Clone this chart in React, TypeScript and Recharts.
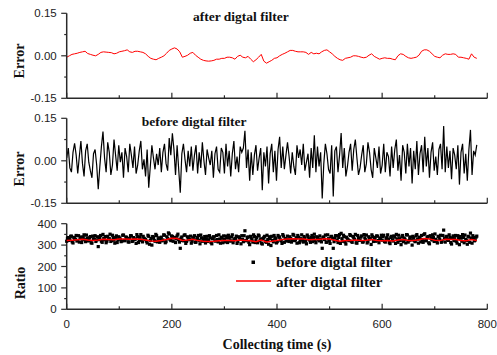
import React from 'react';
import { LineChart, Line, XAxis, YAxis, ComposedChart, Scatter } from 'recharts';

// ---------------- data ----------------
const AFTER_STEP = 5; // s
const afterFilterErrorMilli = [
  -5, 0, 5, 7, 9, 12, 14, 16, 8, 5,
  2, 0, 5, 12, 14, 13, 12, 11, 7, 9,
  14, 16, 18, 21, 14, 12, 16, 16, 14, 12,
  7, -2, -9, -12, -14, -9, -5, 0, 9, 19,
  24, 28, 24, 14, -5, -2, 2, 9, 12, 2,
  -5, -12, -16, -18, -19, -18, -16, -12, -12, -9,
  -9, -5, -5, -7, -12, -2, 2, -5, -7, -2,
  -12, -21, -14, -5, 5, -19, -26, -21, -16, -9,
  -7, 0, 5, 9, 14, 19, 19, 16, 14, 14,
  14, 12, 5, 12, 7, 9, 7, 14, 19, 21,
  14, 7, -2, -9, -14, -16, -9, -7, -5, 0,
  0, -2, -5, -7, -5, 2, 7, -2, -7, -12,
  -9, -7, -9, -9, -12, -14, 0, 7, 5, -2,
  -7, -9, -7, -5, 2, 16, 21, 21, 16, 7,
  -2, -5, -7, 2, 7, 5, 5, 7, 5, -5,
  -5, -7, -9, -12, 7, -5, -9,
];

const BEFORE_STEP = 3; // s
const beforeFilterErrorMilli = [
  10, 45, -25, -40, 30, 62, 20, -45, 15, 70, -10, -55, 35, 60, -5, -35, -60, 25, 40, -15,
  -100, -20, 50, 103, 10, -40, 65, 30, -50, -15, 75, 20, -35, 55, -5, 30, -60, 45, 15, -40,
  60, 20, -25, 50, -45, -15, 35, 70, -30, 5, -55, 40, -95, -20, 55, 10, -30, 25, -15, 45,
  -40, 30, 60, -10, -35, 80, 20, 97, 40, -50, 55, -30, -113, 25, 60, 5, -40, 35, -20, 50,
  -35, 20, 55, -45, 30, -25, 65, 0, -50, 40, 10, -15, 35, -60, 25, 50, -30, -40, 45, 30,
  -45, 60, -20, 35, -55, 25, 70, -30, 15, -40, 50, 30, 45, 106, -25, 40, -70, 30, -50, 20,
  55, -35, 10, 45, -104, 30, -20, 50, -80, 25, 60, -40, 35, -70, 40, 85, -25, 50, -30, 20,
  65, 15, -45, 30, -20, -50, 55, 10, 40, -15, 60, -35, -5, 25, -60, 45, -25, 90, -40, 50,
  -20, 30, -133, -10, 60, 25, -30, -45, 55, -126, 35, 50, -40, 20, 98, -25, 45, -55, -20, 30,
  60, -35, 40, 75, 10, -50, -25, 20, 55, -40, -10, 65, 30, -30, -60, 45, 10, -25, 50, -45,
  -15, 60, -40, 30, 15, -55, 50, -25, 40, 75, -35, 20, -70, 55, 30, -45, 60, -20, 45, -80,
  35, -30, 70, -50, 25, 55, -40, 85, -20, 45, -60, 30, 65, -35, 15, -50, 40, 60, -30, 123,
  -40, 50, -25, 35, -65, 45, 20, -30, 55, -84, 30, 60, -45, 25, -70, 40, 109, -50, 35, 20, 56,
];

const RATIO_STEP = 3; // s, two interleaved sample sets offset by half a step
const ratioBeforeFilterA = [
  318, 335, 326, 342, 310, 330, 345, 322, 314, 338, 327, 348, 316, 333, 321, 340, 309, 329, 344, 324,
  293, 336, 318, 350, 325, 311, 341, 330, 317, 346, 323, 334, 312, 339, 328, 319, 347, 321, 336, 315,
  331, 343, 320, 327, 308, 339, 324, 349, 315, 332, 326, 310, 341, 322, 300, 335, 318, 344, 329, 313,
  337, 324, 346, 316, 331, 352, 321, 340, 334, 312, 343, 326, 285, 338, 320, 348, 317, 333, 327, 309,
  330, 344, 314, 336, 322, 347, 318, 329, 310, 341, 325, 334, 306, 339, 320, 345, 315, 328, 337, 311,
  326, 342, 312, 335, 319, 348, 323, 331, 308, 339, 327, 344, 316, 367, 321, 338, 302, 333, 314, 340,
  324, 311, 343, 329, 305, 336, 318, 346, 304, 330, 341, 315, 334, 310, 345, 338, 320, 349, 313, 328,
  342, 317, 331, 322, 346, 325, 309, 337, 319, 348, 314, 333, 306, 340, 324, 336, 316, 351, 311, 335,
  320, 327, 285, 338, 347, 314, 330, 308, 341, 285, 333, 344, 312, 349, 355, 318, 339, 305, 328, 321,
  345, 313, 336, 350, 309, 331, 322, 343, 315, 334, 347, 317, 329, 303, 340, 326, 318, 342, 311, 333,
  323, 346, 314, 335, 328, 307, 341, 319, 337, 350, 313, 330, 302, 345, 333, 310, 347, 321, 338, 300,
  334, 316, 349, 309, 331, 345, 313, 353, 322, 340, 306, 332, 348, 317, 327, 310, 339, 346, 318, 370,
  314, 341, 322, 336, 305, 343, 330, 318, 344, 302, 333, 349, 311, 327, 304, 338, 356, 309, 335, 324, 342,
];
const ratioBeforeFilterB = [
  330, 322, 341, 315, 336, 327, 319, 344, 331, 312, 338, 325, 347, 320, 334, 311, 342, 328, 317, 339,
  326, 345, 313, 332, 340, 318, 329, 351, 322, 336, 309, 343, 325, 333, 316, 346, 321, 338, 330, 314,
  344, 317, 335, 328, 349, 312, 337, 323, 341, 329, 318, 346, 304, 331, 340, 322, 350, 315, 334, 326,
  320, 348, 311, 339, 357, 326, 343, 318, 336, 329, 351, 314, 333, 322, 346, 308, 339, 325, 342, 318,
  337, 313, 328, 345, 306, 334, 321, 340, 327, 317, 344, 312, 330, 337, 319, 326, 348, 309, 332, 343,
  315, 333, 346, 320, 338, 311, 329, 342, 317, 335, 306, 327, 344, 321, 336, 313, 341, 325, 348, 312,
  336, 347, 320, 309, 331, 341, 313, 326, 339, 298, 322, 345, 330, 316, 337, 324, 308, 342, 331, 319,
  327, 339, 314, 350, 321, 334, 345, 311, 330, 325, 340, 318, 347, 329, 313, 345, 336, 322, 339, 327,
  343, 315, 336, 326, 313, 348, 320, 339, 330, 316, 344, 323, 336, 308, 330, 346, 315, 337, 324, 349,
  318, 340, 327, 311, 345, 322, 337, 314, 349, 325, 310, 339, 332, 348, 317, 335, 343, 321, 331, 346,
  340, 317, 331, 348, 312, 336, 325, 343, 308, 329, 346, 321, 338, 316, 327, 349, 314, 333, 324, 341,
  320, 343, 328, 337, 315, 326, 349, 320, 336, 311, 344, 324, 335, 352, 319, 341, 328, 313, 345, 330,
  339, 326, 348, 312, 333, 321, 345, 309, 331, 340, 318, 336, 347, 322, 341, 313, 332, 344, 320, 337,
];

const RATIO_LINE_STEP = 10; // s
const ratioAfterFilter = [
  321, 323, 325, 327, 324, 322, 324, 327, 326, 325,
  328, 329, 327, 328, 327, 324, 319, 318, 321, 326,
  332, 331, 322, 324, 327, 321, 318, 317, 318, 320,
  321, 322, 320, 324, 322, 320, 316, 324, 315, 318,
  322, 326, 328, 330, 329, 328, 325, 326, 326, 330,
  328, 323, 318, 321, 322, 324, 322, 323, 326, 321,
  320, 321, 319, 324, 326, 321, 322, 325, 331, 329,
  323, 321, 327, 326, 326, 322, 320, 326, 321,
];

const timeTicks = [0, 100, 200, 300, 400, 500, 600, 700, 800];
const errorTicks = [-0.15, -0.075, 0, 0.075, 0.15];
const errorLabels = [-0.15, 0, 0.15];
const ratioTicks = [0, 50, 100, 150, 200, 250, 300, 350, 400];
const ratioLabels = [0, 100, 200, 300, 400];

const afterData = afterFilterErrorMilli.map((v, i) => ({ t: i * AFTER_STEP, e: v / 1000 }));
const beforeData = beforeFilterErrorMilli.map((v, i) => ({ t: i * BEFORE_STEP, e: v / 1000 }));
const ratioScatterData = [
  ...ratioBeforeFilterA.map((v, i) => ({ t: i * RATIO_STEP, r: v })),
  ...ratioBeforeFilterB.map((v, i) => ({ t: i * RATIO_STEP + RATIO_STEP / 2, r: v })),
];
const ratioLineData = ratioAfterFilter.map((v, i) => ({ t: i * RATIO_LINE_STEP, r: v }));

// ---------------- styles ----------------
const AXIS = '#2a2a2a';
const SANS = '"Liberation Sans", Arial, sans-serif';
const SERIF = '"Liberation Serif", "Times New Roman", serif';
const W = 497;
const PLOT_LEFT = 66.7;
const RIGHT = 9.7;
const XAXIS_H = 30;

const XTick = (props: any) => {
  const { x, y, payload, showLabel } = props;
  const v = payload.value;
  const major = v % 200 === 0;
  return (
    <g>
      <line x1={x} x2={x} y1={y} y2={y - (major ? 5.5 : 3)} stroke={AXIS} strokeWidth={1.2} />
      {showLabel && major && (
        <text x={x} y={y + 19} textAnchor="middle" fontSize={11.5} fontFamily={SANS} fill="#222">
          {v}
        </text>
      )}
    </g>
  );
};

const YTick = (props: any) => {
  const { x, y, payload, labels, fmt } = props;
  const v = payload.value;
  const major = labels.some((l: number) => Math.abs(l - v) < 1e-9);
  return (
    <g>
      <line x1={x} x2={x - (major ? 5.5 : 2.5)} y1={y} y2={y} stroke={AXIS} strokeWidth={1.2} />
      {major && (
        <text x={x - 10} y={y + 4} textAnchor="end" fontSize={11.5} fontFamily={SANS} fill="#222">
          {fmt(v)}
        </text>
      )}
    </g>
  );
};

const fmtErr = (v: number) => (Math.abs(v) < 1e-9 ? '0.00' : v.toFixed(2));
const fmtRatio = (v: number) => String(v);

const Square = (props: any) => {
  const { cx, cy } = props;
  if (cx == null || cy == null) return null;
  return <rect x={cx - 1.6} y={cy - 1.6} width={3.2} height={3.2} fill="#000" />;
};

// plotTop / plotBottom are page coordinates of the plot area
const errorPanel = (data: any[], color: string, width: number, divTop: number, plotTop: number, plotBottom: number) => {
  const h = plotBottom - divTop + XAXIS_H;
  return (
    <div style={{ position: 'absolute', left: 0, top: divTop, width: W, height: h }}>
      <LineChart width={W} height={h} data={data} margin={{ top: plotTop - divTop, right: RIGHT, bottom: 0, left: 0 }}>
        <XAxis
          dataKey="t"
          type="number"
          domain={[0, 800]}
          ticks={timeTicks}
          interval={0}
          height={XAXIS_H}
          tickSize={0}
          tickMargin={0}
          tickLine={false}
          axisLine={{ stroke: AXIS, strokeWidth: 1.5 }}
          tick={(p: any) => <XTick {...p} showLabel={false} />}
        />
        <YAxis
          type="number"
          domain={[-0.15, 0.15]}
          ticks={errorTicks}
          interval={0}
          width={PLOT_LEFT}
          tickSize={0}
          tickMargin={0}
          tickLine={false}
          allowDataOverflow
          axisLine={{ stroke: AXIS, strokeWidth: 1.5 }}
          tick={(p: any) => <YTick {...p} labels={errorLabels} fmt={fmtErr} />}
        />
        <Line type="linear" dataKey="e" stroke={color} strokeWidth={width} dot={false} isAnimationActive={false} />
      </LineChart>
    </div>
  );
};

const RATIO_DIV_TOP = 212;
const RATIO_H = 143;
const ratioMargin = { top: 223.7 - RATIO_DIV_TOP, right: RIGHT, bottom: RATIO_DIV_TOP + RATIO_H - 309.3 - XAXIS_H, left: 0 };

export default function App() {
  return (
    <div style={{ position: 'absolute', left: 0, top: 0, width: W, height: 355, background: '#fff' }}>
      {errorPanel(afterData, '#ff0000', 1, 0, 13.3, 98.3)}
      {errorPanel(beforeData, '#000000', 1.2, 106, 118.3, 203.3)}
      <div style={{ position: 'absolute', left: 0, top: RATIO_DIV_TOP, width: W, height: RATIO_H }}>
        <ComposedChart width={W} height={RATIO_H} margin={ratioMargin}>
          <XAxis
            dataKey="t"
            type="number"
            domain={[0, 800]}
            ticks={timeTicks}
            interval={0}
            height={XAXIS_H}
            tickSize={0}
            tickMargin={0}
            tickLine={false}
            axisLine={{ stroke: AXIS, strokeWidth: 1.5 }}
            tick={(p: any) => <XTick {...p} showLabel={true} />}
          />
          <YAxis
            type="number"
            domain={[0, 400]}
            ticks={ratioTicks}
            interval={0}
            width={PLOT_LEFT}
            tickSize={0}
            tickMargin={0}
            tickLine={false}
            axisLine={{ stroke: AXIS, strokeWidth: 1.5 }}
            tick={(p: any) => <YTick {...p} labels={ratioLabels} fmt={fmtRatio} />}
          />
          <Scatter data={ratioScatterData} dataKey="r" fill="#000" shape={<Square />} isAnimationActive={false} />
        </ComposedChart>
      </div>
      {/* after-filter ratio line drawn above the scatter, same scales */}
      <div style={{ position: 'absolute', left: 0, top: RATIO_DIV_TOP, width: W, height: RATIO_H }}>
        <LineChart width={W} height={RATIO_H} data={ratioLineData} margin={ratioMargin}>
          <XAxis dataKey="t" type="number" domain={[0, 800]} height={XAXIS_H} axisLine={false} tickLine={false} tick={false} />
          <YAxis type="number" domain={[0, 400]} width={PLOT_LEFT} axisLine={false} tickLine={false} tick={false} />
          <Line type="linear" dataKey="r" stroke="#ff0000" strokeWidth={1.5} dot={false} isAnimationActive={false} />
        </LineChart>
      </div>
      <svg width={W} height={355} style={{ position: 'absolute', left: 0, top: 0, pointerEvents: 'none' }}>
        <g fontFamily={SERIF} fontWeight="bold" fill="#111">
          <text x={193} y={21} fontSize={13.5}>after digtal filter</text>
          <text x={141.7} y={126} fontSize={13.5}>before digtal filter</text>
          <text x={24} y={61} fontSize={14} textAnchor="middle" transform="rotate(-90 24 61)">Error</text>
          <text x={24} y={169} fontSize={14} textAnchor="middle" transform="rotate(-90 24 169)">Error</text>
          <text x={25} y={283} fontSize={14} textAnchor="middle" transform="rotate(-90 25 283)">Ratio</text>
          <text x={277} y={349} fontSize={14} textAnchor="middle">Collecting time (s)</text>
          <rect x={251.5} y={260.5} width={3.5} height={3.5} fill="#000" />
          <text x={276} y={267.3} fontSize={15}>before digtal filter</text>
          <line x1={236} x2={271} y1={281} y2={281} stroke="#ff0000" strokeWidth={1.3} />
          <text x={276} y={286.7} fontSize={15}>after digtal filter</text>
        </g>
      </svg>
    </div>
  );
}
